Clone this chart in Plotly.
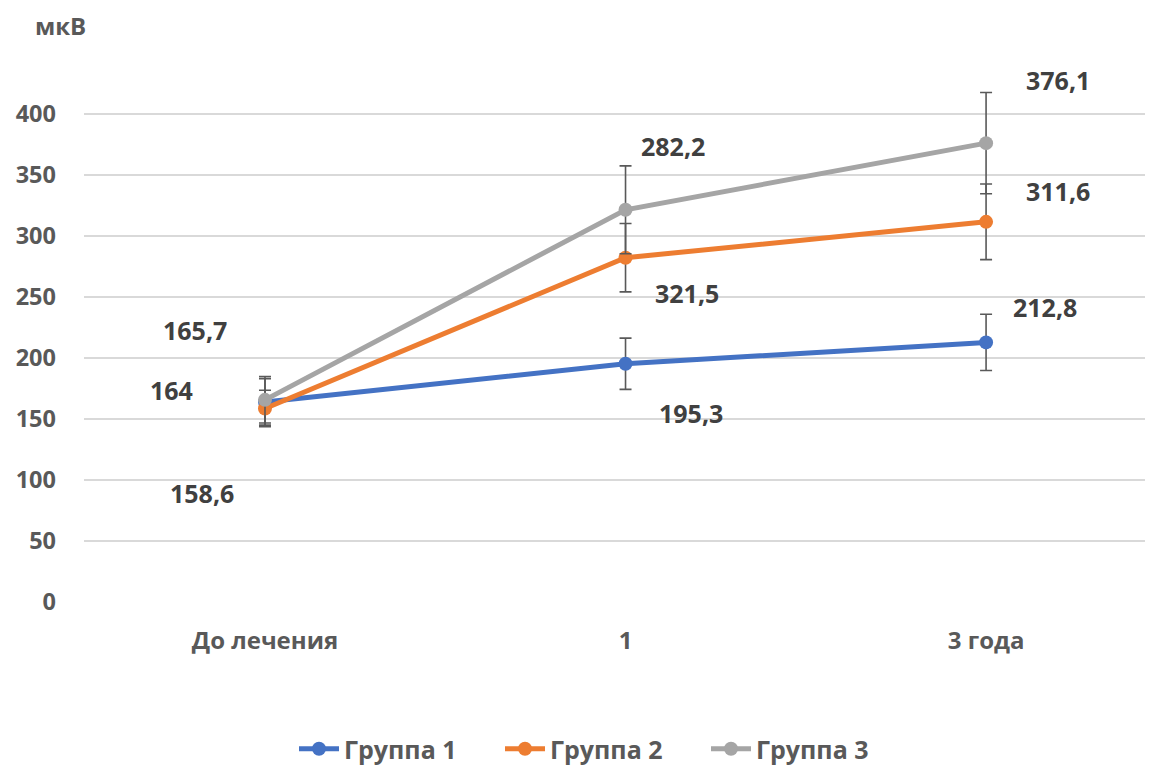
import plotly.graph_objects as go

categories = ["До лечения", "1", "3 года"]
series_names = ["Группа 1", "Группа 2", "Группа 3"]
group1 = [164, 195.3, 212.8]
group2 = [158.6, 282.2, 311.6]
group3 = [165.7, 321.5, 376.1]
err1 = [19, 21, 23]
err2 = [15, 28, 31]
err3 = [19, 36, 41.5]
y_ticks = [0, 50, 100, 150, 200, 250, 300, 350, 400]
y_title = "мкВ"

values = [group1, group2, group3]
errors = [err1, err2, err3]
colors = ["#4472C4", "#ED7D31", "#A5A5A5"]
# label offsets in pixels (dx, dy) relative to each point, as placed in the original
label_offsets = [
    [(-93, 12), (65, -49), (59, 35)],
    [(-63, -84), (47, 112), (72, 31)],
    [(-70, 70), (61, -83), (72, 63)],
]

FONT = "Open Sans"
W, H = 1145, 759          # page has an 8px body margin
L, B = 76, 165
PLOT_W = W - L
PLOT_H = H - B
PX_PER_UNIT = 1.22

def fmt(v):
    if float(v).is_integer():
        return str(int(v))
    return str(v).replace(".", ",")

fig = go.Figure()
for name, vals, errs, col in zip(series_names, values, errors, colors):
    fig.add_trace(go.Scatter(
        x=categories, y=vals, name=name, mode="lines+markers",
        line=dict(color=col, width=5),
        marker=dict(color=col, size=14),
        error_y=dict(type="data", array=errs, visible=True, color="#595959",
                     thickness=1.6, width=6),
    ))

annotations = []
for vals, offs in zip(values, label_offsets):
    for c, v, (dx, dy) in zip(categories, vals, offs):
        annotations.append(dict(
            x=c, y=v, xref="x", yref="y", text=fmt(v), showarrow=False,
            xshift=dx, yshift=dy,
            font=dict(family=FONT, size=25, color="#404040", weight="bold"),
        ))
annotations.append(dict(
    x=(52 - L) / PLOT_W, y=(PLOT_H - 17) / PLOT_H, xref="paper", yref="paper",
    text=y_title, showarrow=False, xanchor="center", yanchor="middle",
    font=dict(family=FONT, size=24, color="#595959", weight="bold"),
))

fig.update_layout(
    width=W, height=H,
    margin=dict(l=L, r=0, t=0, b=B, pad=0, autoexpand=False),
    paper_bgcolor="white", plot_bgcolor="white",
    showlegend=True,
    legend=dict(orientation="h", xref="container", yref="container",
                x=286 / W, xanchor="left",
                y=1 - 741 / H, yanchor="middle",
                font=dict(family=FONT, size=25, color="#595959", weight="bold"),
                itemwidth=40, entrywidth=151, entrywidthmode="pixels",
                traceorder="normal"),
    annotations=annotations,
    xaxis=dict(type="category", range=[-0.502, 2.463], showgrid=False,
               showline=False, zeroline=False, ticks="", automargin=False,
               tickfont=dict(family=FONT, size=24, color="#595959", weight="bold"),
               ticklabelstandoff=22),
    yaxis=dict(range=[0, PLOT_H / PX_PER_UNIT], tickvals=y_ticks, showgrid=True,
               gridcolor="#D9D9D9", gridwidth=1.5, zeroline=False, showline=False,
               ticks="", automargin=False,
               tickfont=dict(family=FONT, size=23.5, color="#595959", weight="bold"),
               ticklabelstandoff=27),
)

fig.write_html("out.html")
